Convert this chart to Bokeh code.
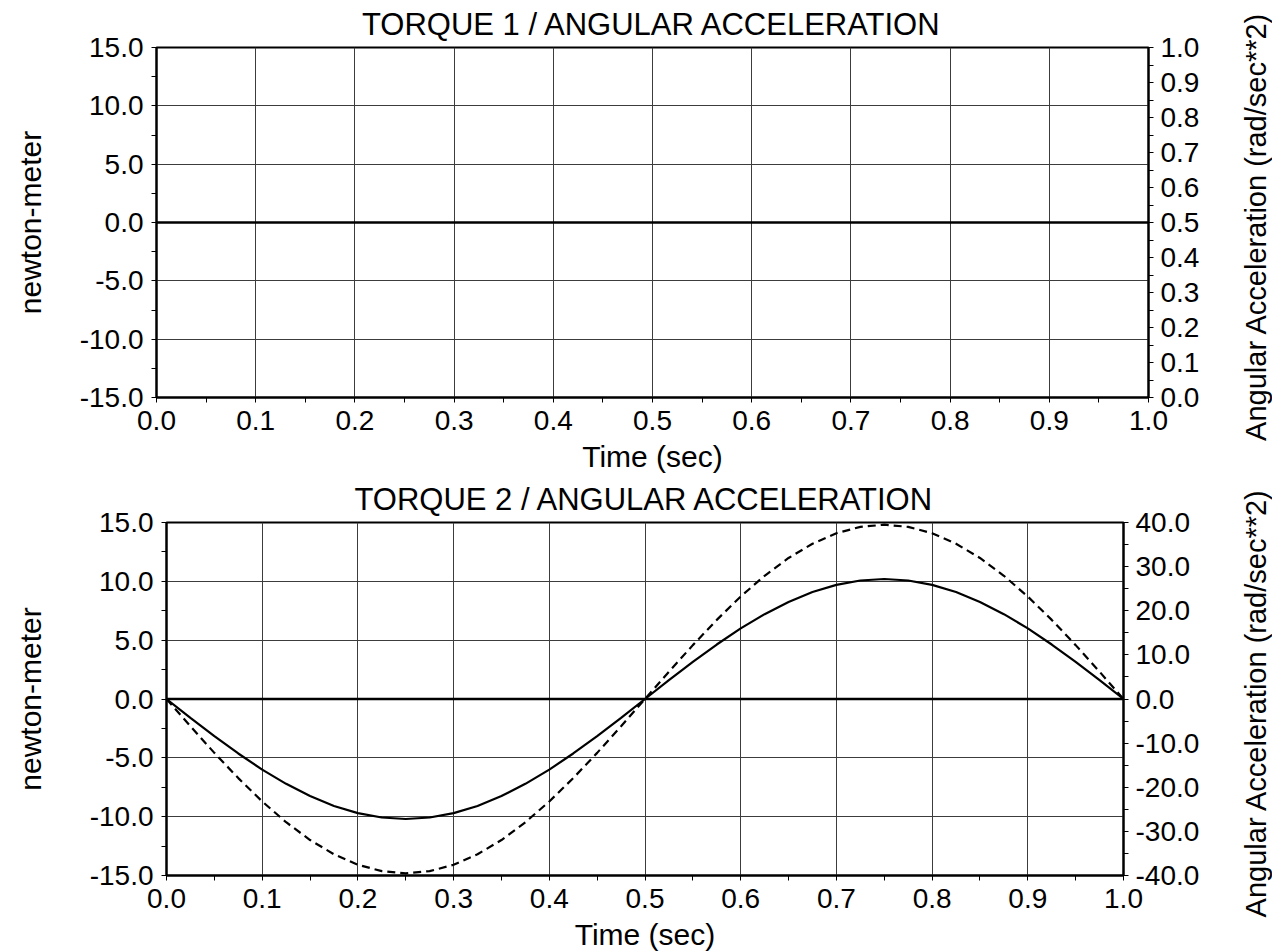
import math
from bokeh.plotting import figure
from bokeh.models import Range1d, LinearAxis, Span, FixedTicker, PrintfTickFormatter
from bokeh.layouts import row
from bokeh.embed import file_html
from bokeh.resources import INLINE

# ---------------- data ----------------
time_s = [0.000, 0.025, 0.050, 0.075, 0.100, 0.125, 0.150, 0.175, 0.200, 0.225,
          0.250, 0.275, 0.300, 0.325, 0.350, 0.375, 0.400, 0.425, 0.450, 0.475,
          0.500, 0.525, 0.550, 0.575, 0.600, 0.625, 0.650, 0.675, 0.700, 0.725,
          0.750, 0.775, 0.800, 0.825, 0.850, 0.875, 0.900, 0.925, 0.950, 0.975,
          1.000]

torque2_nm = [0.00, -1.60, -3.15, -4.63, -6.00, -7.21, -8.25, -9.09, -9.70, -10.07,
              -10.20, -10.07, -9.70, -9.09, -8.25, -7.21, -6.00, -4.63, -3.15, -1.60,
              0.00, 1.60, 3.15, 4.63, 6.00, 7.21, 8.25, 9.09, 9.70, 10.07,
              10.20, 10.07, 9.70, 9.09, 8.25, 7.21, 6.00, 4.63, 3.15, 1.60,
              0.00]

ang_acc2 = [0.00, -6.18, -12.21, -17.93, -23.22, -27.93, -31.96, -35.19, -37.57, -39.01,
            -39.50, -39.01, -37.57, -35.19, -31.96, -27.93, -23.22, -17.93, -12.21, -6.18,
            0.00, 6.18, 12.21, 17.93, 23.22, 27.93, 31.96, 35.19, 37.57, 39.01,
            39.50, 39.01, 37.57, 35.19, 31.96, 27.93, 23.22, 17.93, 12.21, 6.18,
            0.00]

x_ticks = [0.0, 0.1, 0.2, 0.3, 0.4, 0.5, 0.6, 0.7, 0.8, 0.9, 1.0]
x_minor = [0.05, 0.15, 0.25, 0.35, 0.45, 0.55, 0.65, 0.75, 0.85, 0.95]
torque_ticks = [-15.0, -10.0, -5.0, 0.0, 5.0, 10.0, 15.0]
torque_minor = [-12.5, -7.5, -2.5, 2.5, 7.5, 12.5]
acc1_ticks = [0.0, 0.1, 0.2, 0.3, 0.4, 0.5, 0.6, 0.7, 0.8, 0.9, 1.0]
acc1_minor = [0.05, 0.15, 0.25, 0.35, 0.45, 0.55, 0.65, 0.75, 0.85, 0.95]
acc2_ticks = [-40.0, -30.0, -20.0, -10.0, 0.0, 10.0, 20.0, 30.0, 40.0]
acc2_minor = [-35.0, -25.0, -15.0, -5.0, 5.0, 15.0, 25.0, 35.0]

FONT = "Liberation Sans"
TICK_FS = "28px"
LABEL_FS = "30px"
RLABEL_FS = "29px"
TITLE_FS = "31px"
GRID_COLOR = "#3c3c3c"
RIGHT_LABEL = "Angular Acceleration  (rad/sec**2)"


def style_axis(ax, ticks, minor, label):
    ax.ticker = FixedTicker(ticks=ticks, minor_ticks=minor)
    ax.formatter = PrintfTickFormatter(format="%.1f")
    ax.axis_label = label
    ax.axis_label_text_font = FONT
    ax.axis_label_text_font_size = LABEL_FS
    ax.axis_label_text_font_style = "normal"
    ax.axis_label_text_color = "black"
    ax.major_label_text_font = FONT
    ax.major_label_text_font_size = TICK_FS
    ax.major_label_text_color = "black"
    ax.axis_line_color = "black"
    ax.axis_line_width = 2
    ax.major_tick_line_color = "black"
    ax.minor_tick_line_color = "black"
    ax.major_tick_out = 5
    ax.major_tick_in = 0
    ax.minor_tick_out = 5
    ax.minor_tick_in = 0
    ax.major_label_standoff = 8


def make_panel(title, acc_range, acc_ticks, acc_minor, fw, fh, b_left, b_right, b_top, b_bottom,
               ylab_standoff):
    p = figure(frame_width=fw, frame_height=fh,
               x_range=Range1d(0.0, 1.0), y_range=Range1d(-15.0, 15.0),
               output_backend="svg", toolbar_location=None,
               min_border_left=b_left, min_border_right=b_right,
               min_border_top=b_top, min_border_bottom=b_bottom,
               background_fill_color="white", border_fill_color="white")
    p.title.text = title
    p.title.align = "center"
    p.title.vertical_align = "top"
    p.title.text_font = FONT
    p.title.text_font_size = TITLE_FS
    p.title.text_font_style = "normal"
    p.title.text_color = "black"
    p.title.standoff = 8

    p.outline_line_color = "black"
    p.outline_line_width = 2
    p.outline_line_alpha = 1.0

    style_axis(p.xaxis[0], x_ticks, x_minor, "Time (sec)")
    p.xaxis[0].axis_label_standoff = 7
    style_axis(p.yaxis[0], torque_ticks, torque_minor, "newton-meter")
    p.yaxis[0].axis_label_standoff = ylab_standoff

    p.extra_y_ranges = {"acc": Range1d(acc_range[0], acc_range[1])}
    rax = LinearAxis(y_range_name="acc")
    style_axis(rax, acc_ticks, acc_minor, "")
    rax.major_label_standoff = 7
    p.add_layout(rax, "right")

    p.xgrid.ticker = FixedTicker(ticks=x_ticks)
    p.ygrid.ticker = FixedTicker(ticks=torque_ticks)
    for g in (p.xgrid[0], p.ygrid[0]):
        g.grid_line_color = GRID_COLOR
        g.grid_line_width = 1
        g.grid_line_alpha = 1.0

    p.add_layout(Span(location=0.0, dimension="width", line_color="black", line_width=2.5))
    return p


def make_side_label(fh, b_left, b_top, b_bottom):
    # narrow companion figure that only carries the right-hand axis title
    q = figure(frame_width=1, frame_height=fh, x_range=Range1d(0, 1), y_range=Range1d(0, 1),
               output_backend="svg", toolbar_location=None,
               min_border_left=b_left, min_border_right=0,
               min_border_top=b_top, min_border_bottom=b_bottom,
               background_fill_color="white", border_fill_color="white")
    q.outline_line_color = None
    q.xaxis.visible = False
    q.xgrid.visible = False
    q.ygrid.visible = False
    ax = q.yaxis[0]
    ax.ticker = FixedTicker(ticks=[], minor_ticks=[])
    ax.axis_line_color = None
    ax.major_tick_line_color = None
    ax.minor_tick_line_color = None
    ax.axis_label = RIGHT_LABEL
    ax.axis_label_text_font = FONT
    ax.axis_label_text_font_size = RLABEL_FS
    ax.axis_label_text_font_style = "normal"
    ax.axis_label_text_color = "black"
    ax.axis_label_standoff = 0
    return q


p1 = make_panel("TORQUE 1 / ANGULAR ACCELERATION", (0.0, 1.0), acc1_ticks, acc1_minor,
                fw=992, fh=350, b_left=156, b_right=70, b_top=47, b_bottom=74,
                ylab_standoff=30)
q1 = make_side_label(fh=350, b_left=53, b_top=47, b_bottom=74)

p2 = make_panel("TORQUE 2 / ANGULAR ACCELERATION", (-40.0, 40.0), acc2_ticks, acc2_minor,
                fw=957, fh=353, b_left=166, b_right=95, b_top=47, b_bottom=71,
                ylab_standoff=40)
q2 = make_side_label(fh=353, b_left=53, b_top=47, b_bottom=71)

p2.line(time_s, torque2_nm, line_color="black", line_width=2.2)
p2.line(time_s, ang_acc2, y_range_name="acc", line_color="black", line_width=2.2,
        line_dash="8 5")

with open("out.html", "w") as f:
    f.write(file_html([row(p1, q1, spacing=0), row(p2, q2, spacing=0)], INLINE))
